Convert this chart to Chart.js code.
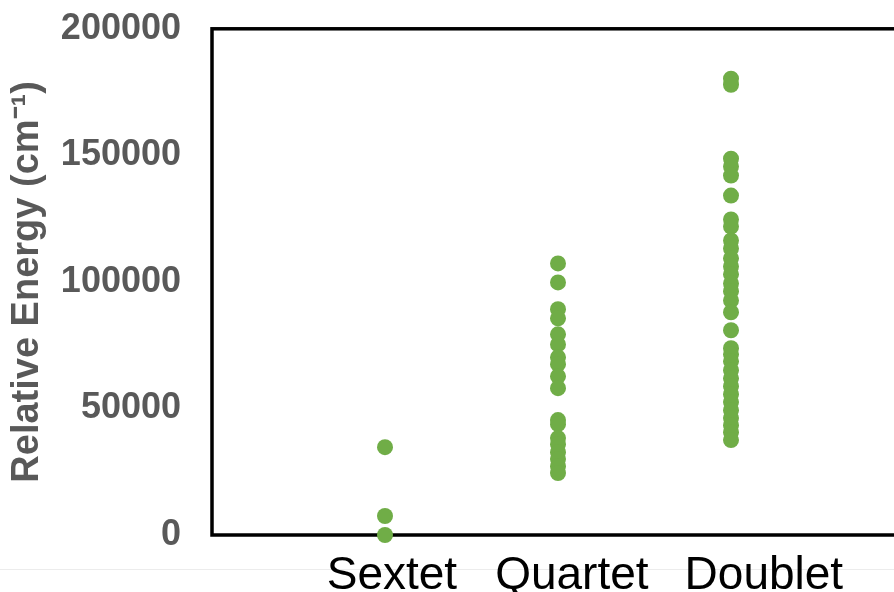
<!DOCTYPE html>
<html>
<head>
<meta charset="utf-8">
<script src="https://cdn.jsdelivr.net/npm/chart.js@4.4.1/dist/chart.umd.min.js"></script>
<style>
  html, body { margin: 0; padding: 0; background: #fff; overflow: hidden; }
  #wrap { position: relative; width: 894px; height: 592px; overflow: hidden; }
  #rule { position: absolute; left: 0; top: 569px; width: 894px; height: 1px; background: #ececec; }
  #chart { position: absolute; left: 0; top: -5px; }
</style>
</head>
<body>
<div id="wrap">
  <div id="rule"></div>
  <canvas id="chart" width="920" height="597"></canvas>
</div>
<script>
// ---- data ----
const categories = ['Sextet', 'Quartet', 'Doublet'];
const sextetEnergies = [34700, 7500, 0];
const quartetEnergies = [107300, 99800, 89200, 85600, 79300, 75300, 70200, 67500, 62700, 58000,
                         45400, 43800, 38300, 35900, 32700, 30000, 27200, 24500];
const doubletEnergies = [180300, 177900, 148700, 145600, 142000, 134100, 124700, 121900, 116400, 113200,
                         109300, 106100, 103000, 99400, 96300, 92700, 88000, 80900, 73800, 71400,
                         68600, 65100, 61900, 58800, 55600, 52500, 49300, 46200, 43400, 40600, 37500];
const yTicks = [0, 50000, 100000, 150000, 200000];

// label anchor positions along the x axis (category units)
const labelAnchors = [1.04, 2.08, 3.19];

const seriesByCategory = [sextetEnergies, quartetEnergies, doubletEnergies];
const points = [];
seriesByCategory.forEach((vals, i) => vals.forEach(v => points.push({ x: i + 1, y: v })));

const boxPlugin = {
  id: 'box',
  beforeDatasetsDraw(chart) {
    const { ctx, chartArea: a } = chart;
    ctx.save();
    ctx.strokeStyle = '#000';
    ctx.lineWidth = 3.5;
    ctx.strokeRect(a.left, a.top, a.right - a.left, a.bottom - a.top);
    ctx.restore();
  }
};

new Chart(document.getElementById('chart'), {
  type: 'scatter',
  data: {
    datasets: [{
      data: points,
      backgroundColor: '#70AD47',
      borderWidth: 0,
      pointRadius: 8,
      pointHoverRadius: 8,
      clip: false
    }]
  },
  options: {
    responsive: false,
    devicePixelRatio: 1,
    animation: false,
    layout: { autoPadding: false, padding: { left: 0, right: 16, top: 28, bottom: 0 } },
    plugins: { legend: { display: false }, tooltip: { enabled: false } },
    scales: {
      x: {
        type: 'linear',
        min: 0, max: 4,
        grid: { display: false },
        border: { display: false },
        afterBuildTicks(scale) {
          scale.ticks = labelAnchors.map(v => ({ value: v }));
        },
        afterFit(scale) { scale.height = 57; },
        ticks: {
          autoSkip: false,
          maxRotation: 0,
          padding: 6,
          color: '#000',
          font: { family: 'Liberation Sans, Arial, sans-serif', size: 46 },
          callback: (v, i) => categories[i]
        }
      },
      y: {
        min: 0, max: 200000,
        grid: { display: false },
        border: { display: false },
        afterBuildTicks(scale) {
          scale.ticks = yTicks.map(v => ({ value: v }));
        },
        afterFit(scale) { scale.width = 212; },
        ticks: {
          padding: 23,
          color: '#595959',
          font: { family: 'Liberation Sans, Arial, sans-serif', size: 36, weight: 'bold', lineHeight: 0.6 },
          callback: v => String(v)
        },
        title: {
          display: true,
          text: 'Relative Energy (cm\u207B\u00B9)',
          color: '#595959',
          padding: { top: 5, bottom: 0 },
          font: { family: 'Liberation Sans, Arial, sans-serif', size: 38, weight: 'bold', lineHeight: 1.2 }
        }
      }
    }
  },
  plugins: [boxPlugin]
});
</script>
</body>
</html>
